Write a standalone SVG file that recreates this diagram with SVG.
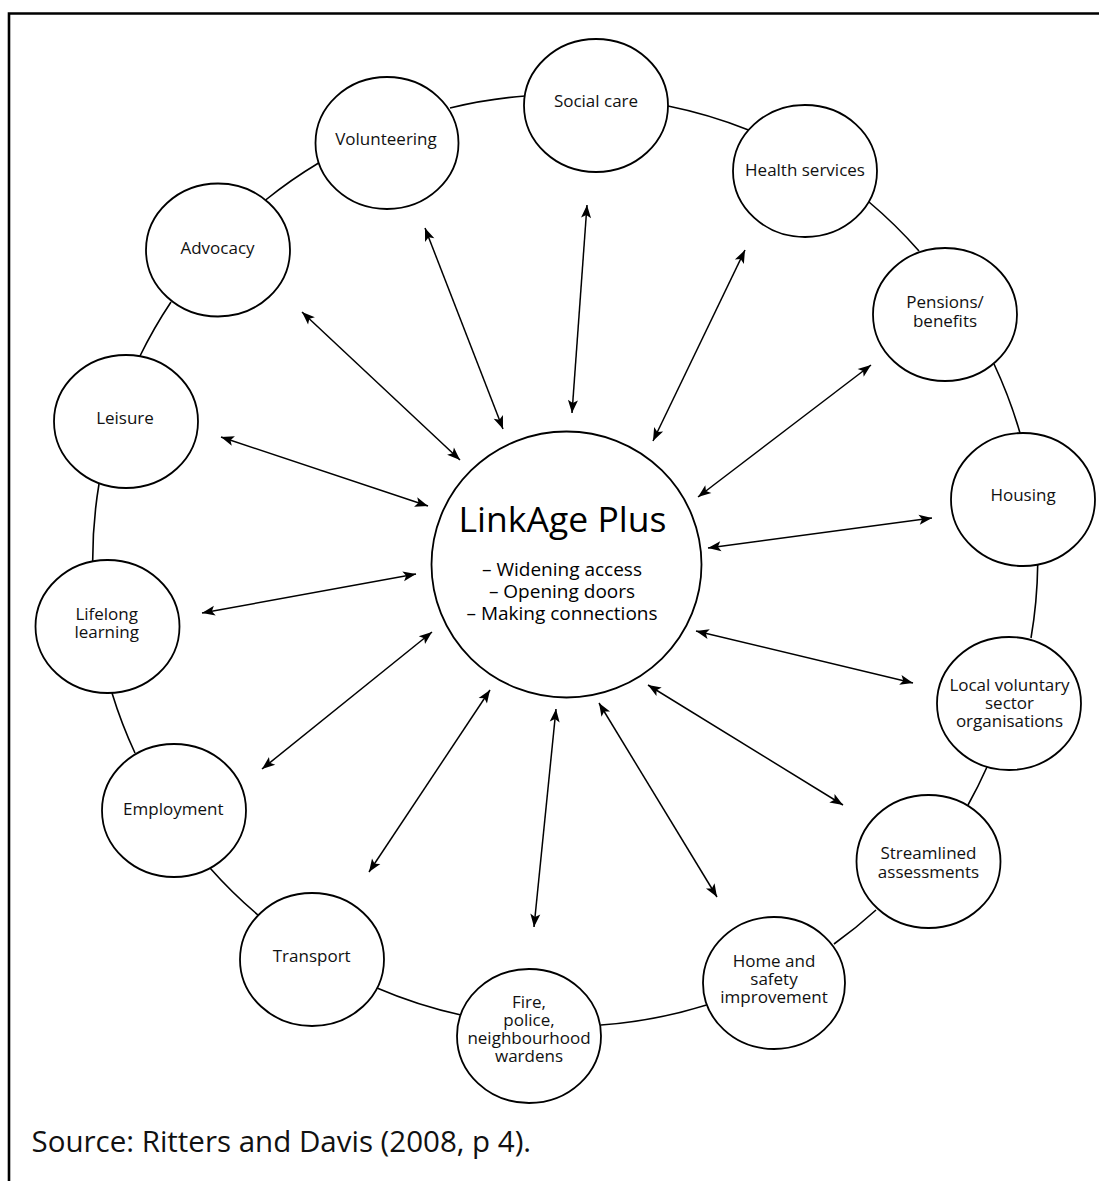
<svg xmlns="http://www.w3.org/2000/svg" width="1099" height="1181" viewBox="0 0 1099 1181">
<defs>
<marker id="ah" viewBox="-14 -6 15 12" refX="0" refY="0" markerWidth="15" markerHeight="12" markerUnits="userSpaceOnUse" orient="auto-start-reverse" overflow="visible">
<path d="M0,0 L-13,-5 L-10,0 L-13,5 Z" fill="#000"/>
</marker>
<style>
.node{fill:#fff;stroke:#000;stroke-width:1.8}
.lbl{font-family:"Open Sans","Noto Sans","Liberation Sans",sans-serif;font-size:17px;fill:#111;text-anchor:middle}
.ring{fill:none;stroke:#000;stroke-width:1.6}
.arr{fill:none;stroke:#000;stroke-width:1.5;marker-start:url(#ah);marker-end:url(#ah)}
.hub{font-family:"Open Sans","Noto Sans","Liberation Sans",sans-serif;fill:#000;text-anchor:middle}
</style>
</defs>
<rect width="1099" height="1181" fill="#fff"/>
<path d="M9,1181 L9,13.5 L1099,13.5" fill="none" stroke="#000" stroke-width="2.6"/>

<g id="connectors">
<g id="ring">
<path class="ring" d="M450,108 A464,464 0 0 1 525,96"/>
<path class="ring" d="M668,106 A464,464 0 0 1 748.5,130"/>
<path class="ring" d="M869,202 A464,464 0 0 1 919,251"/>
<path class="ring" d="M994,364 A464,464 0 0 1 1020,433"/>
<path class="ring" d="M1037.7,565 A464,464 0 0 1 1031,638"/>
<path class="ring" d="M987,767 A464,464 0 0 1 968,805"/>
<path class="ring" d="M876,910 A464,464 0 0 1 834,944"/>
<path class="ring" d="M706.5,1005 A464,464 0 0 1 601,1025"/>
<path class="ring" d="M461,1015 A464,464 0 0 1 377,988"/>
<path class="ring" d="M258,915 A464,464 0 0 1 210,868"/>
<path class="ring" d="M135,753 A464,464 0 0 1 112,693"/>
<path class="ring" d="M92.7,561.7 A464,464 0 0 1 99,484"/>
<path class="ring" d="M140,356 A464,464 0 0 1 171,302"/>
<path class="ring" d="M265.6,200 A464,464 0 0 1 318.6,163"/>
</g>
<g id="arrows">
<line class="arr" x1="587" y1="205" x2="572" y2="413"/>
<line class="arr" x1="745" y1="250" x2="653" y2="441"/>
<line class="arr" x1="871" y1="365" x2="698" y2="497"/>
<line class="arr" x1="932" y1="518" x2="708" y2="548"/>
<line class="arr" x1="913" y1="683" x2="696" y2="631"/>
<line class="arr" x1="843" y1="805" x2="648" y2="685"/>
<line class="arr" x1="717" y1="897" x2="599" y2="703"/>
<line class="arr" x1="534" y1="927" x2="556" y2="709"/>
<line class="arr" x1="369" y1="872" x2="490" y2="690"/>
<line class="arr" x1="262" y1="769" x2="432" y2="632"/>
<line class="arr" x1="202" y1="613" x2="416" y2="574"/>
<line class="arr" x1="221" y1="437" x2="428" y2="506"/>
<line class="arr" x1="302" y1="312" x2="460" y2="460"/>
<line class="arr" x1="425" y1="228" x2="503" y2="429"/>
</g>
</g>

<g id="hub">
<ellipse class="node" cx="566.5" cy="564.5" rx="135" ry="133"/>
<text class="hub" x="562.5" y="532" font-size="35.5">LinkAge Plus</text>
<text class="hub" x="562" y="576" font-size="19">– Widening access</text>
<text class="hub" x="562" y="598" font-size="19">– Opening doors</text>
<text class="hub" x="562" y="620" font-size="19">– Making connections</text>
</g>

<g id="social-care"><ellipse class="node" cx="596" cy="105.5" rx="72" ry="66.5"/><text class="lbl" x="596" y="107">Social care</text></g>
<g id="health-services"><ellipse class="node" cx="805" cy="171" rx="72" ry="66"/><text class="lbl" x="805" y="176">Health services</text></g>
<g id="pensions-benefits"><ellipse class="node" cx="945" cy="314.5" rx="72" ry="66.5"/><text class="lbl" x="945" y="308"><tspan x="945">Pensions/</tspan><tspan x="945" dy="19">benefits</tspan></text></g>
<g id="housing"><ellipse class="node" cx="1023" cy="499.5" rx="72" ry="66.5"/><text class="lbl" x="1023" y="500.5">Housing</text></g>
<g id="local-voluntary"><ellipse class="node" cx="1009" cy="703.5" rx="72" ry="66.5"/><text class="lbl" x="1009.5" y="690.5"><tspan x="1009.5">Local voluntary</tspan><tspan x="1009.5" dy="18">sector</tspan><tspan x="1009.5" dy="18">organisations</tspan></text></g>
<g id="streamlined-assessments"><ellipse class="node" cx="928.5" cy="861.5" rx="72" ry="66.5"/><text class="lbl" x="928.5" y="859"><tspan x="928.5">Streamlined</tspan><tspan x="928.5" dy="18.5">assessments</tspan></text></g>
<g id="home-safety"><ellipse class="node" cx="774" cy="983" rx="71" ry="66"/><text class="lbl" x="774" y="966.5"><tspan x="774">Home and</tspan><tspan x="774" dy="18.3">safety</tspan><tspan x="774" dy="18.3">improvement</tspan></text></g>
<g id="fire-police"><ellipse class="node" cx="529" cy="1036" rx="72" ry="67"/><text class="lbl" x="529" y="1008"><tspan x="529">Fire,</tspan><tspan x="529" dy="18">police,</tspan><tspan x="529" dy="18">neighbourhood</tspan><tspan x="529" dy="18">wardens</tspan></text></g>
<g id="transport"><ellipse class="node" cx="312" cy="959.5" rx="72" ry="66.5"/><text class="lbl" x="311.7" y="962">Transport</text></g>
<g id="employment"><ellipse class="node" cx="174" cy="810.5" rx="72" ry="66.5"/><text class="lbl" x="173.3" y="815">Employment</text></g>
<g id="lifelong-learning"><ellipse class="node" cx="107.5" cy="626.5" rx="72" ry="66.5"/><text class="lbl" x="106.7" y="619.5"><tspan x="106.7">Lifelong</tspan><tspan x="106.7" dy="18.5">learning</tspan></text></g>
<g id="leisure"><ellipse class="node" cx="126" cy="421.5" rx="72" ry="66.5"/><text class="lbl" x="125" y="424">Leisure</text></g>
<g id="advocacy"><ellipse class="node" cx="218" cy="250" rx="72" ry="66.5"/><text class="lbl" x="217.5" y="253.5">Advocacy</text></g>
<g id="volunteering"><ellipse class="node" cx="387" cy="143" rx="71.5" ry="66"/><text class="lbl" x="386" y="144.5">Volunteering</text></g>

<text x="31.5" y="1152" font-family="Open Sans, Noto Sans, Liberation Sans, sans-serif" font-size="29.5" fill="#111">Source: Ritters and Davis (2008, p 4).</text>
</svg>
